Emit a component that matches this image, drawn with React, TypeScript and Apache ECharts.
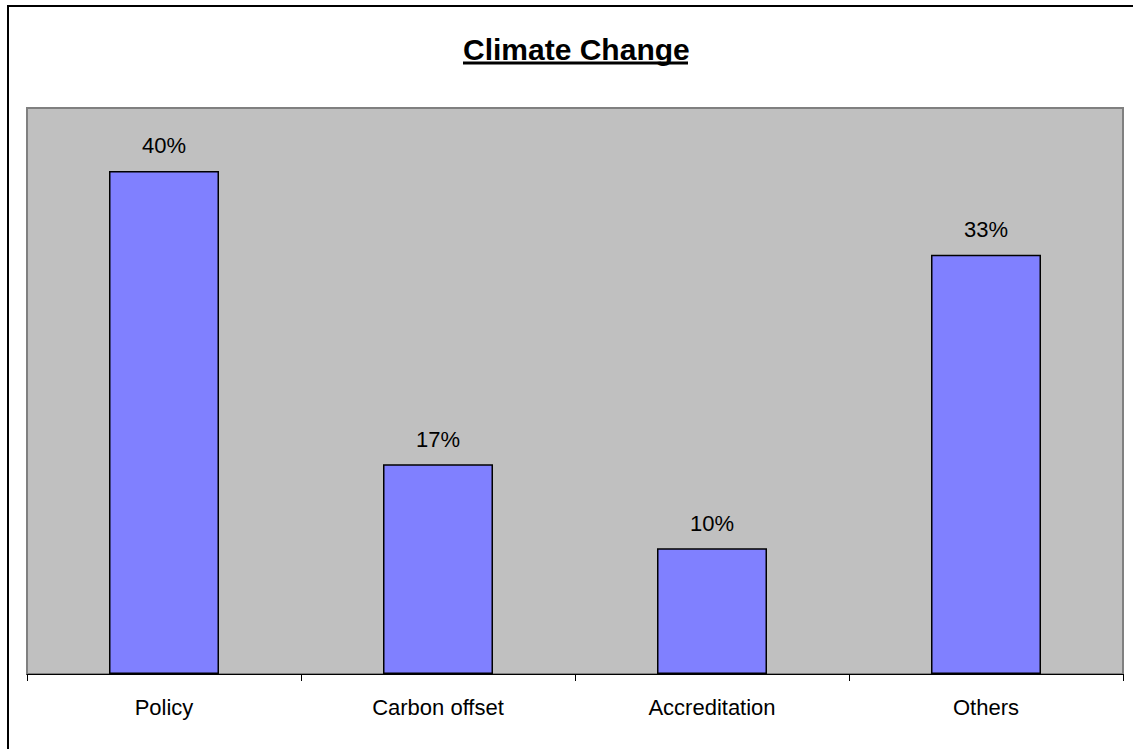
import React, { useEffect, useRef } from "react";
import * as echarts from "echarts";

const categories = ["Policy", "Carbon offset", "Accreditation", "Others"];
const values = [40, 16.67, 10, 33.33];
const titleText = "Climate Change";
const yMax = 45;

export default function App() {
  const ref = useRef<HTMLDivElement>(null);
  useEffect(() => {
    if (!ref.current) return;
    const chart = echarts.init(ref.current, undefined, { renderer: "svg" });
    const font = "Arial, 'Liberation Sans', sans-serif";
    chart.setOption({
      animation: false,
      backgroundColor: "#ffffff",
      title: {
        text: titleText,
        left: 463,
        top: 34,
        padding: 0,
        textStyle: { fontFamily: font, fontSize: 30, fontWeight: "bold", color: "#000" },
      },
      graphic: [
        { type: "line", shape: { x1: 463, y1: 63, x2: 688, y2: 63 }, style: { stroke: "#000", lineWidth: 3 } },
        { type: "line", shape: { x1: 7, y1: 6, x2: 1133, y2: 6 }, style: { stroke: "#000", lineWidth: 2 } },
        { type: "line", shape: { x1: 8, y1: 5, x2: 8, y2: 749 }, style: { stroke: "#000", lineWidth: 2 } },
      ],
      grid: {
        left: 27,
        right: 10,
        top: 108,
        bottom: 75,
        show: true,
        backgroundColor: "#C0C0C0",
        borderColor: "#808080",
        borderWidth: 2,
      },
      xAxis: {
        type: "category",
        data: categories,
        axisLine: { lineStyle: { color: "#000", width: 1 } },
        axisTick: { show: true, alignWithLabel: false, length: 7, lineStyle: { color: "#000" } },
        axisLabel: { color: "#000", fontFamily: font, fontSize: 22, margin: 22 },
      },
      yAxis: {
        type: "value",
        min: 0,
        max: yMax,
        show: false,
        splitLine: { show: false },
      },
      series: [
        {
          type: "bar",
          data: values,
          barWidth: 110,
          itemStyle: { color: "#8080FF", borderColor: "#000", borderWidth: 1.5 },
          label: {
            show: true,
            position: "top",
            distance: 14,
            formatter: (p: any) => Math.round(p.value) + "%",
            color: "#000",
            fontFamily: font,
            fontSize: 22,
          },
        },
      ],
    });
    return () => chart.dispose();
  }, []);
  return (
    <div
      ref={ref}
      style={{ position: "fixed", left: 0, top: 0, width: 1133, height: 749 }}
    />
  );
}
